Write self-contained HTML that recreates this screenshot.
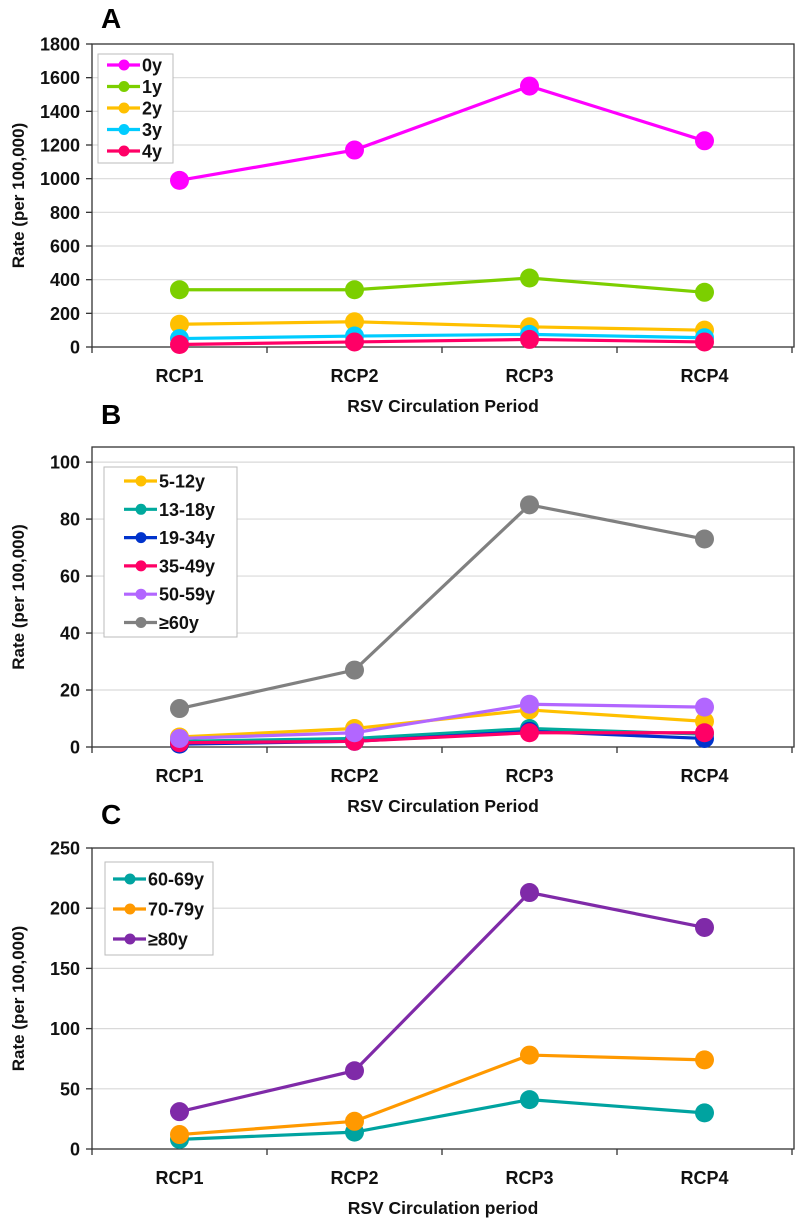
<!DOCTYPE html>
<html><head><meta charset="utf-8"><style>
body{margin:0;background:#fff;}
svg{display:block;font-family:"Liberation Sans",Arial,sans-serif;}
</style></head><body>
<svg id="chart" width="797" height="1224" viewBox="0 0 797 1224" xmlns="http://www.w3.org/2000/svg"></svg>
<script>
const categories = ["RCP1","RCP2","RCP3","RCP4"];
// Panel A
const aNames = ["0y","1y","2y","3y","4y"];
const aColors = ["#ff00ff","#7ccf00","#ffc000","#00ccff","#ff0066"];
const a0y = [990,1170,1550,1225];
const a1y = [340,340,410,325];
const a2y = [135,150,120,100];
const a3y = [50,65,75,55];
const a4y = [15,30,45,30];
const aTicks = [0,200,400,600,800,1000,1200,1400,1600,1800];
// Panel B
const bNames = ["5-12y","13-18y","19-34y","35-49y","50-59y","≥60y"];
const bColors = ["#ffc000","#00a99d","#0033cc","#ff0066","#b266ff","#808080"];
const b5 = [3.5,6.5,13,9];
const b13 = [2,3,6.5,4.5];
const b19 = [1,2,5.5,3];
const b35 = [1.5,2,5,5];
const b50 = [3,5,15,14];
const b60 = [13.5,27,85,73];
const bTicks = [0,20,40,60,80,100];
// Panel C
const cNames = ["60-69y","70-79y","≥80y"];
const cColors = ["#00a3a0","#ff9900","#7f2aa8"];
const c60 = [8,14,41,30];
const c70 = [12,23,78,74];
const c80 = [31,65,213,184];
const cTicks = [0,50,100,150,200,250];

const NS="http://www.w3.org/2000/svg";
const svg=document.getElementById('chart');
function el(tag,attrs,parent,txt){const e=document.createElementNS(NS,tag);for(const k in attrs)e.setAttribute(k,attrs[k]);if(txt!==undefined)e.textContent=txt;(parent||svg).appendChild(e);return e;}

function panel(cfg){
  const g=el('g',{});
  
  
  const x0=92,band=175,right=794;
  const xs=i=>x0+band*(i+0.5);
  const ys=v=>cfg.y0-(v-0)/(cfg.max)*(cfg.y0-cfg.yTop);
  const lt=el('text',{x:cfg.letterX,y:cfg.letterY,'font-size':28,'font-weight':'bold',fill:'#000'},g,cfg.letter);
  
  
  cfg.ticks.forEach(t=>{
    if(t>0&&t<cfg.max){const gl=el('line',{x1:x0,x2:right,y1:ys(t),y2:ys(t),stroke:'#d9d9d9','stroke-width':1.2},g);
      }
    const tk=el('line',{x1:x0-6,x2:x0,y1:ys(t),y2:ys(t),stroke:'#333','stroke-width':1.3},g);
    
    const tl=el('text',{x:x0-12,y:ys(t)+6.5,'font-size':18,'font-weight':'bold','text-anchor':'end',fill:'#111'},g,String(t));
    
  });
  const fr=el('rect',{x:x0,y:cfg.yTop,width:right-x0,height:cfg.y0-cfg.yTop,fill:'none',stroke:'#333','stroke-width':1.3},g);
  
  for(let i=0;i<=4;i++){const t=el('line',{x1:x0+band*i,x2:x0+band*i,y1:cfg.y0,y2:cfg.y0+6,stroke:'#333','stroke-width':1.3},g);
    }
  categories.forEach((c,i)=>{const t=el('text',{x:xs(i),y:cfg.y0+35,'font-size':18,'font-weight':'bold','text-anchor':'middle',fill:'#111'},g,c);
    });
  const xt=el('text',{x:443,y:cfg.y0+65,'font-size':17.5,'font-weight':'bold','text-anchor':'middle',fill:'#111'},g,cfg.xTitle);
  
  const ym=(cfg.y0+cfg.yTop)/2;
  const yt=el('text',{x:0,y:0,'font-size':17,'font-weight':'bold','text-anchor':'middle',fill:'#111',transform:`translate(24,${ym}) rotate(-90)`},g,'Rate (per 100,000)');
  
  cfg.series.forEach((s,k)=>{
    const sg=el('g',{},g);
    
    
    el('polyline',{points:s.map((v,i)=>xs(i)+','+ys(v)).join(' '),fill:'none',stroke:cfg.colors[k],'stroke-width':3.2},sg);
    s.forEach((v,i)=>{const c=el('circle',{cx:xs(i),cy:ys(v),r:9.5,fill:cfg.colors[k]},sg);
      });
  });
  const L=cfg.legend;
  const lg=el('g',{},g);
  
  
  el('rect',{x:L.x,y:L.y,width:L.w,height:L.h,fill:'#fff',stroke:'#bbb','stroke-width':1},lg);
  cfg.names.forEach((n,k)=>{
    const yy=L.y+L.first+k*L.step;
    const eg=el('g',{},lg);
    
    
    el('line',{x1:L.x+L.lx,x2:L.x+L.lx+33,y1:yy,y2:yy,stroke:cfg.colors[k],'stroke-width':3.2},eg);
    el('circle',{cx:L.x+L.lx+17,cy:yy,r:5.5,fill:cfg.colors[k]},eg);
    el('text',{x:L.x+L.lx+35,y:yy+6.5,'font-size':18,'font-weight':'bold',fill:'#111'},eg,n);
  });
}

panel({letter:'A',letterX:101,letterY:28,yTop:44,y0:347,max:1800,ticks:aTicks,
  xTitle:'RSV Circulation Period',names:aNames,colors:aColors,series:[a0y,a1y,a2y,a3y,a4y],
  legend:{x:98,y:54,w:75,h:109,first:11,step:21.5,lx:9}});
panel({letter:'B',letterX:101,letterY:424,yTop:447,y0:747,max:105.3,ticks:bTicks,
  xTitle:'RSV Circulation Period',names:bNames,colors:bColors,series:[b5,b13,b19,b35,b50,b60],
  legend:{x:104,y:467,w:133,h:170,first:14,step:28.3,lx:20}});
panel({letter:'C',letterX:101,letterY:824,yTop:848,y0:1149,max:250,ticks:cTicks,
  xTitle:'RSV Circulation period',names:cNames,colors:cColors,series:[c60,c70,c80],
  legend:{x:105,y:862,w:108,h:93,first:17,step:30,lx:8}});
</script>
</body></html>
